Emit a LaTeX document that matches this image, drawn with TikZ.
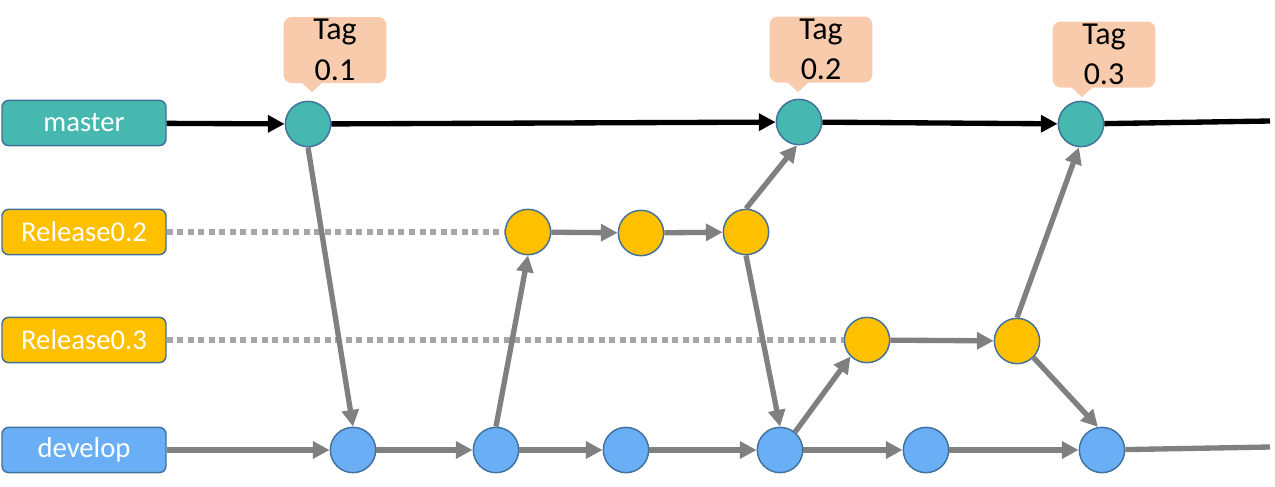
\documentclass[tikz,border=0pt]{standalone}
\usepackage{fontspec}
\setmainfont{Carlito}
\usetikzlibrary{arrows.meta}
\definecolor{tealc}{HTML}{46B8AF}
\definecolor{outl}{HTML}{41719C}
\definecolor{yel}{HTML}{FFC000}
\definecolor{blu}{HTML}{6AAFF5}
\definecolor{tagc}{HTML}{F8CBAD}
\definecolor{grayc}{HTML}{808080}
\definecolor{dotc}{HTML}{A6A6A6}
\begin{document}
\begin{tikzpicture}[x=0.75pt,y=-0.75pt,
  lbl/.style={rounded corners=5pt, draw=outl, line width=1.1pt, minimum width=123pt, minimum height=34pt, text=white, font=\fontsize{21.5}{25}\selectfont, inner sep=0pt},
  commit/.style={circle, draw=outl, line width=1.1pt, minimum size=34pt, inner sep=0pt},
  tagbox/.style={fill=tagc, rounded corners=6pt, minimum width=77pt, minimum height=49.5pt, align=center, font=\fontsize{24}{30.5}\selectfont, inner sep=0pt},
  garr/.style={draw=grayc, line width=4pt, -{Triangle[length=12.5pt,width=12.5pt]}},
  barr/.style={draw=black, line width=4pt, -{Triangle[length=12.5pt,width=12.5pt]}},
  gline/.style={draw=grayc, line width=4pt},
  bline/.style={draw=black, line width=4pt},
  dots/.style={draw=dotc, line width=4pt, dash pattern=on 4.5pt off 3.4pt},
]
\useasboundingbox (0,0) rectangle (1275,486);

% labels
\node[lbl, fill=tealc] (lm) at (84,123) {master};
\node[lbl, fill=yel] (lr2) at (84,232) {Release0.2};
\node[lbl, fill=yel] (lr3) at (84,340) {Release0.3};
\node[lbl, fill=blu] (ld) at (84,450) {develop};

% commits
\node[commit, fill=tealc] (m1) at (308,124) {};
\node[commit, fill=tealc] (m2) at (799,122) {};
\node[commit, fill=tealc] (m3) at (1081,124) {};
\node[commit, fill=yel] (r1) at (528,232) {};
\node[commit, fill=yel] (r2) at (641,233) {};
\node[commit, fill=yel] (r3) at (746,232) {};
\node[commit, fill=yel] (s1) at (867,340) {};
\node[commit, fill=yel] (s2) at (1017,341) {};
\node[commit, fill=blu] (d1) at (353,450) {};
\node[commit, fill=blu] (d2) at (496,450) {};
\node[commit, fill=blu] (d3) at (626,450) {};
\node[commit, fill=blu] (d4) at (780,450) {};
\node[commit, fill=blu] (d5) at (926,450) {};
\node[commit, fill=blu] (d6) at (1102,450) {};
\coordinate (mend) at (1270,121);
\coordinate (dend) at (1270,447);

% tags
\node[tagbox] (t1) at (335,50) {Tag\\0.1};
\fill[tagc] (301,82) -- (312,92) -- (323,82) -- cycle;
\node[tagbox] (t2) at (821,49.5) {Tag\\0.2};
\fill[tagc] (787,82) -- (798,92) -- (809,82) -- cycle;
\node[tagbox] (t3) at (1104,54.5) {Tag\\0.3};
\fill[tagc] (1071,87) -- (1082,97) -- (1093,87) -- cycle;

% master line
\draw[barr] (lm) -- (m1);
\draw[barr] (m1) -- (m2);
\draw[barr] (m2) -- (m3);
\draw[bline] (m3) -- (mend);

% release lines
\draw[dots] (lr2) -- (r1);
\draw[dots] (lr3) -- (s1);
\draw[garr] (r1) -- (r2);
\draw[garr] (r2) -- (r3);
\draw[garr] (s1) -- (s2);

% develop line
\draw[garr] (ld) -- (d1);
\draw[garr] (d1) -- (d2);
\draw[garr] (d2) -- (d3);
\draw[garr] (d3) -- (d4);
\draw[garr] (d4) -- (d5);
\draw[garr] (d5) -- (d6);
\draw[gline] (d6) -- (dend);

% cross connectors
\draw[garr] (m1.south) -- (d1.north);
\draw[garr] (d2.north) -- (r1.south);
\draw[garr] (r3.north) -- (m2.265);
\draw[garr] (r3.south) -- (d4.north);
\draw[garr] (d4.50) -- (s1.225);
\draw[garr] (s2.north) -- (m3.265);
\draw[garr] (s2.-45) -- (d6.100);
\end{tikzpicture}
\end{document}
